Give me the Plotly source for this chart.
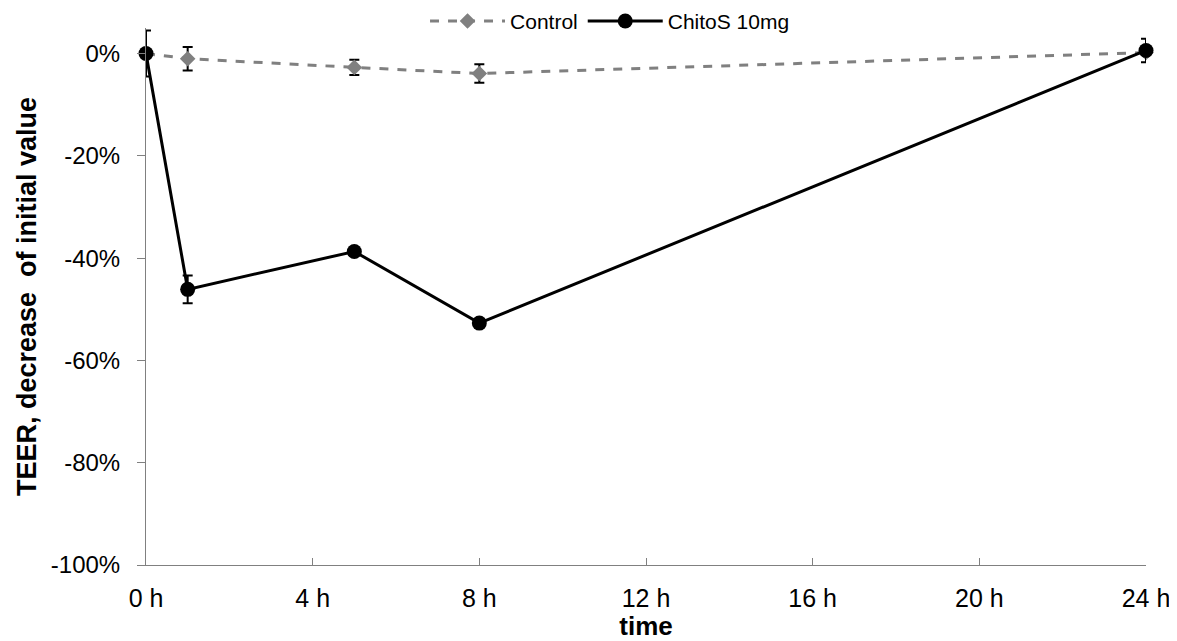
import plotly.graph_objects as go

time_h = [0, 1, 5, 8, 24]
control = [0.0, -0.010, -0.027, -0.039, 0.002]
control_err = [0.0, 0.023, 0.015, 0.018, 0.0]
chitos = [0.0, -0.461, -0.387, -0.527, 0.006]
chitos_err = [0.045, 0.027, 0.0, 0.0, 0.023]
x_ticks = [0, 4, 8, 12, 16, 20, 24]
x_tick_labels = ["0 h", "4 h", "8 h", "12 h", "16 h", "20 h", "24 h"]
y_ticks = [-1.0, -0.8, -0.6, -0.4, -0.2, 0.0]
y_tick_labels = ["-100%", "-80%", "-60%", "-40%", "-20%", "0%"]

fig = go.Figure()
fig.add_trace(go.Scatter(
    x=time_h, y=control, name="Control", mode="lines+markers",
    line=dict(color="#808080", width=3, dash="dash"),
    marker=dict(symbol="diamond", size=12, color="#808080"),
    error_y=dict(type="data", array=control_err, visible=True, color="black", thickness=2, width=5),
    cliponaxis=False,
))
fig.add_trace(go.Scatter(
    x=time_h, y=chitos, name="ChitoS 10mg", mode="lines+markers",
    line=dict(color="black", width=3),
    marker=dict(symbol="circle", size=15, color="black"),
    error_y=dict(type="data", array=chitos_err, visible=True, color="black", thickness=2, width=5),
    cliponaxis=False,
))

fig.update_layout(
    width=1169, height=633,
    paper_bgcolor="white", plot_bgcolor="white",
    margin=dict(l=138, r=31, t=20, b=76, autoexpand=False),
    font=dict(family="Liberation Sans, Arial, sans-serif", size=22, color="black"),
    legend=dict(orientation="h", x=0.515, xanchor="center", xref="container",
                y=0.979, yanchor="middle", yref="container",
                font=dict(size=21), bgcolor="rgba(0,0,0,0)", itemwidth=75),
    showlegend=True,
)
fig.update_xaxes(
    range=[0, 24], tickvals=x_ticks, ticktext=x_tick_labels,
    showgrid=False, zeroline=False, showline=True, linecolor="#808080", linewidth=1,
    ticks="inside", ticklen=7, tickcolor="#808080", ticklabelstandoff=11,
    tickfont=dict(size=25), automargin=False,
    title=dict(text="<b>time</b>", font=dict(size=26), standoff=4),
)
fig.update_yaxes(
    range=[-1.0, 0.05], tickvals=y_ticks, ticktext=y_tick_labels,
    showgrid=False, zeroline=False, showline=True, linecolor="#808080", linewidth=1,
    ticks="outside", ticklen=8, tickcolor="#808080", ticklabelstandoff=12,
    tickfont=dict(size=24), automargin=False,
    title=dict(text="<b>TEER, decrease  of initial value</b>", font=dict(size=27), standoff=6),
)
fig.write_html("out.html")
